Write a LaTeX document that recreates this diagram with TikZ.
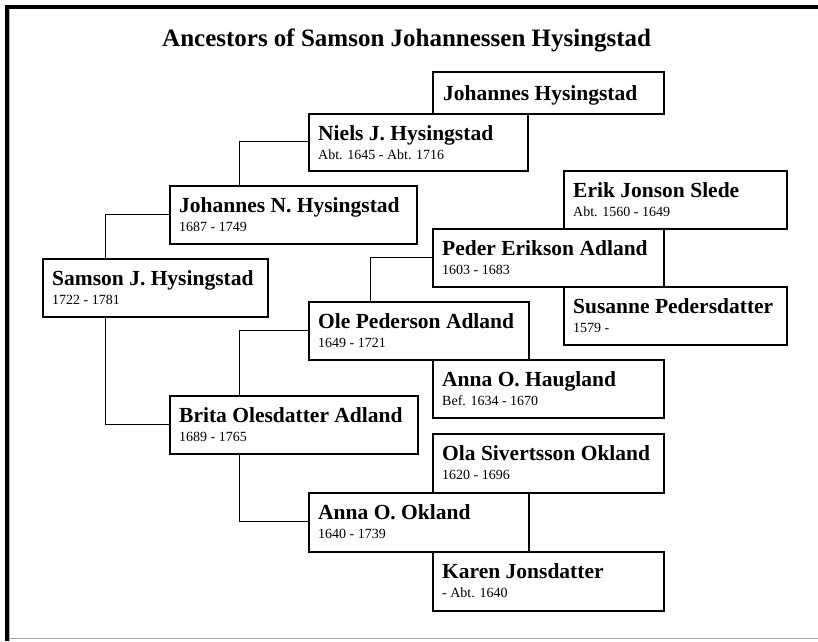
\documentclass[tikz,border=0pt]{standalone}
\usepackage{fontspec}
\setmainfont{Liberation Serif}
\begin{document}
\begin{tikzpicture}[x=1pt,y=-1pt,
  person/.style={draw=black, line width=1.8pt, fill=white, inner sep=0pt, anchor=north west},
  nm/.style={anchor=base west, inner sep=0pt, font=\fontsize{21.5}{24}\selectfont\bfseries},
  dt/.style={anchor=base west, inner sep=0pt, font=\fontsize{14}{16}\selectfont},
  link/.style={draw=black, line width=1pt},
  heading/.style={anchor=base west, inner sep=0pt, font=\fontsize{25}{30}\selectfont\bfseries}]
\useasboundingbox (0,0) rectangle (818,641);
\fill[white] (0,0) rectangle (818,641);

% page frame
\draw[gray!60, line width=1pt] (9.8,641) -- (9.8,9.3);
\draw[gray!70, line width=1.2pt] (9,638.5) -- (818,638.5);
\draw[line width=4.5pt] (7,641) -- (7,6.75) -- (818,6.75);

\node[heading] (title) at (162,46.5) {Ancestors of Samson Johannessen Hysingstad};

% person boxes: name on the first line, dates on the second
\newcommand{\personbox}[8]{%
  \node[person, minimum width=#4pt, minimum height=#5pt] (#1) at (#2,#3) {};
  \node[nm] (#1-name) at ([shift={(10pt,-27.5pt)}]#1.north west) {#6};
  \node[dt] (#1-date) at ([shift={(10pt,-46pt)}]#1.north west) {#7};}

% connectors
\coordinate (samson-c) at (105,258);
\coordinate (jn-c) at (239,185);
\coordinate (brita-c) at (239,395);
\coordinate (ole-c) at (370,301);
\draw[link] (samson-c) |- (169,214);
\draw[link] (105,316) |- (169,424);
\draw[link] (jn-c) |- (308,141.5);
\draw[link] (brita-c) |- (308,330);
\draw[link] (239,453) |- (308,521.5);
\draw[link] (ole-c) |- (432,257);

\personbox{samson}{42}{258}{225}{58}{Samson J. Hysingstad}{1722 - 1781}{}
\personbox{jn}{169}{185}{247}{58}{Johannes N. Hysingstad}{1687 - 1749}{}
\personbox{niels}{308}{113}{219}{57}{Niels J. Hysingstad}{Abt. 1645 - Abt. 1716}{}
\node[person, minimum width=231pt, minimum height=42pt] (jh) at (432,71) {};
\node[nm] (jh-name) at ([shift={(11pt,-29pt)}]jh.north west) {Johannes Hysingstad};
\personbox{erik}{563}{170}{223}{58}{Erik Jonson Slede}{Abt. 1560 - 1649}{}
\personbox{susanne}{563}{286}{223}{58}{Susanne Pedersdatter}{1579 -}{}
\personbox{peder}{432}{228}{231}{58}{Peder Erikson Adland}{1603 - 1683}{}
\personbox{annah}{432}{359}{231}{58}{Anna O. Haugland}{Bef. 1634 - 1670}{}
\personbox{ole}{308}{301}{220}{58}{Ole Pederson Adland}{1649 - 1721}{}
\personbox{brita}{169}{395}{248}{58}{Brita Olesdatter Adland}{1689 - 1765}{}
\personbox{ola}{432}{433}{231}{59}{Ola Sivertsson Okland}{1620 - 1696}{}
\personbox{karen}{432}{551}{231}{59}{Karen Jonsdatter}{- Abt. 1640}{}
\personbox{annao}{308}{492}{220}{59}{Anna O. Okland}{1640 - 1739}{}
\end{tikzpicture}
\end{document}
